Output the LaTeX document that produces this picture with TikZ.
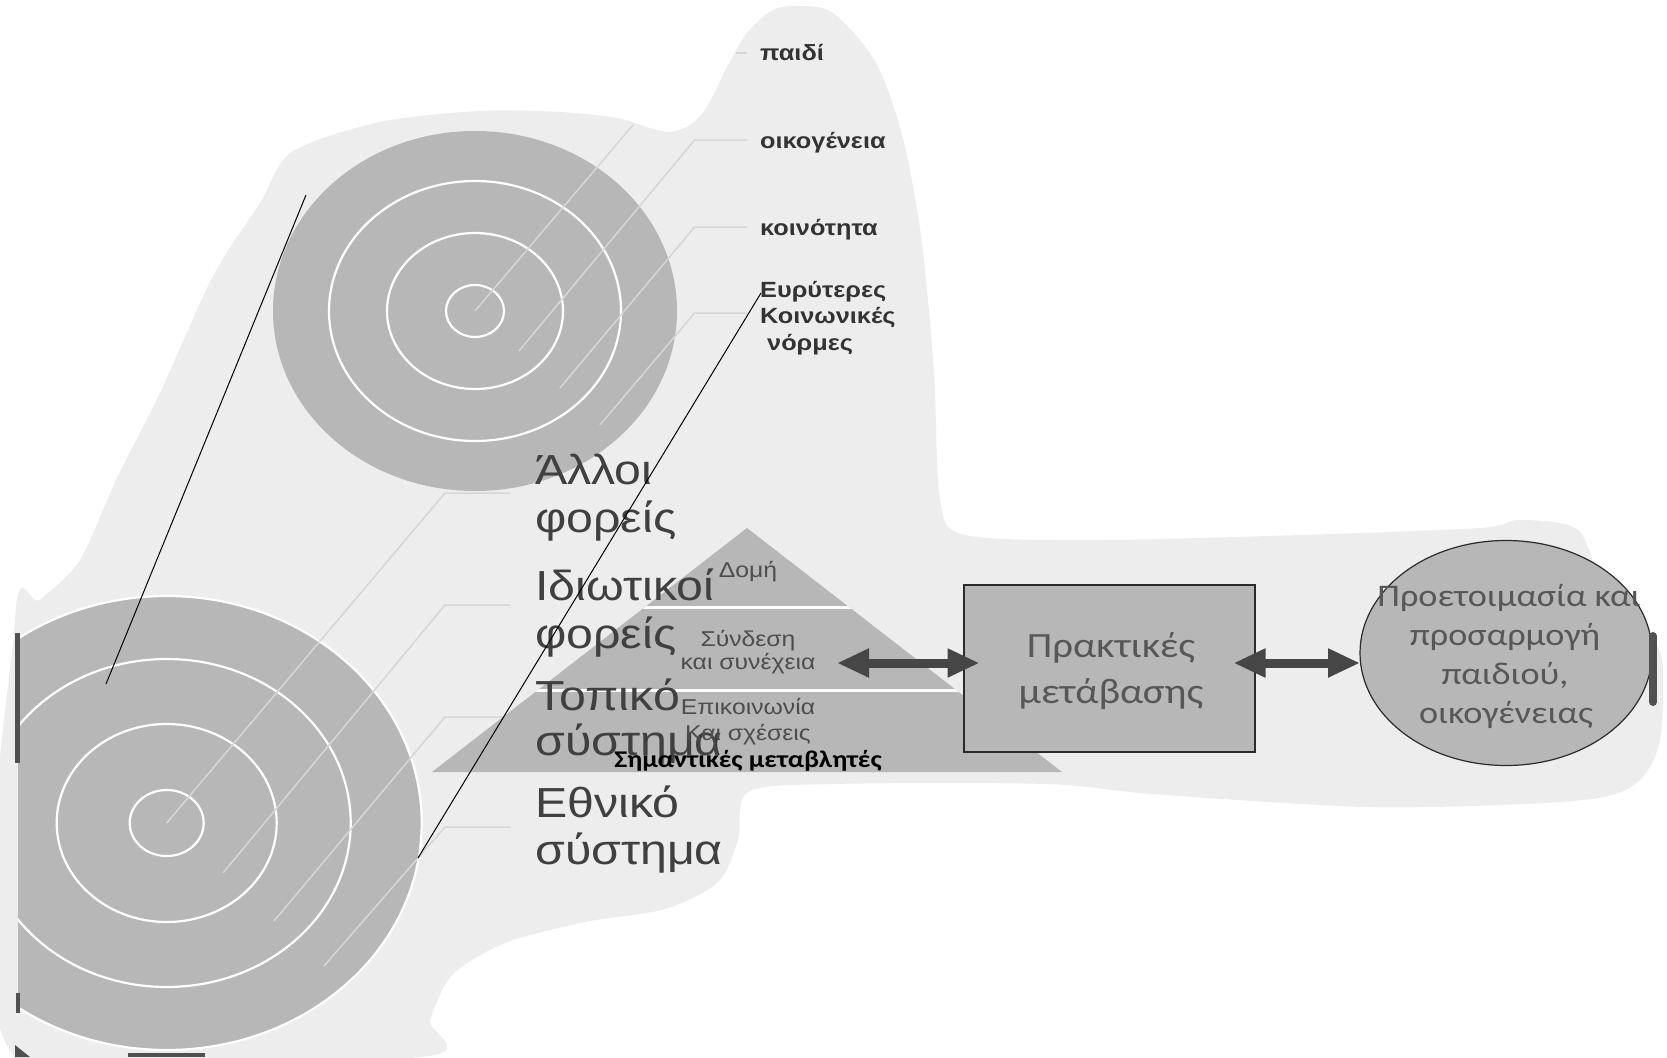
\documentclass[tikz,border=0pt]{standalone}
\usepackage{fontspec}
\setmainfont{Liberation Sans}[FakeStretch=1.15]
\newfontfamily\calfont{Carlito}[FakeStretch=1.15]
\usetikzlibrary{arrows.meta,shapes.geometric}
\definecolor{disc}{HTML}{B7B7B7}
\definecolor{leader}{HTML}{D6D6D6}
\definecolor{bigtext}{HTML}{404040}
\definecolor{labeltext}{HTML}{333333}
\definecolor{pyrtext}{HTML}{4D4D4D}
\definecolor{boxtext}{HTML}{575757}
\definecolor{arrowgray}{HTML}{464646}
\definecolor{boxline}{HTML}{2B2B2B}
\definecolor{darkbar}{HTML}{505050}
\definecolor{blob}{HTML}{EDEDED}
\begin{document}
\begin{tikzpicture}[x=1pt,y=-1pt,
  ring/.style={draw=white,line width=2.2pt},
  leaderline/.style={draw=leader,line width=1.5pt},
  thinblack/.style={draw=black,line width=1pt},
  bigword/.style={anchor=base west,inner sep=0,text=bigtext,font=\fontsize{42}{47}\selectfont},
  toplabel/.style={anchor=base west,inner sep=0,text=labeltext,font=\bfseries\fontsize{22}{26}\selectfont},
  pyrword/.style={anchor=base,inner sep=0,text=pyrtext,font=\fontsize{21.5}{23}\selectfont},
  boxword/.style={anchor=base,inner sep=0,text=boxtext,font=\calfont\fontsize{35.5}{46}\selectfont},
  ellword/.style={anchor=base,inner sep=0,text=boxtext,font=\calfont\fontsize{31.5}{39}\selectfont},
  bigarrow/.style={draw=arrowgray,line width=9pt,
    {Triangle[width=27pt,length=32pt]}-{Triangle[width=27pt,length=32pt]}}]
\useasboundingbox (0,0) rectangle (1667,1057);
\fill[white] (0,0) rectangle (1667,1057);

% background blob
\fill[blob]
  plot[smooth cycle] coordinates {
  (260,203) (292,152) (380,122) (479,111) (560,112) (617,118) (650,128) (670,132)
  (690,125) (707,107) (727,67) (747,33) (773,10) (800,6) (833,13) (875,61)
  (902,135) (921,236) (934,372) (940,500) (965,535) (1100,540) (1300,535)
  (1480,528) (1520,520) (1578,530) (1604,590) (1640,620) (1662,660) (1660,740)
  (1640,780) (1604,797) (1524,804) (1365,807) (1152,794) (1046,784) (833,784)
  (748,792) (738,840) (718,882) (665,909) (585,922) (505,943) (452,975)
  (430,1020) (420,1057) (15,1057) (15,620) (40,600) (80,560) (117,478)
  (160,393) (213,276)};

% top target
\fill[disc] (475,311) ellipse [x radius=202,y radius=180];
\draw[ring] (475,311) ellipse [x radius=146,y radius=130];
\draw[ring] (475,311) ellipse [x radius=88,y radius=78];
\draw[ring] (475,311) ellipse [x radius=29,y radius=26];

% bottom target
\begin{scope}
\clip (18,0) rectangle (1667,1057);
\fill[disc] (166.7,823) ellipse [x radius=255,y radius=227];
\draw[ring] (166.7,823) ellipse [x radius=255,y radius=227];
\draw[ring] (166.7,823) ellipse [x radius=184,y radius=164];
\draw[ring] (166.7,823) ellipse [x radius=110,y radius=99];
\draw[ring] (166.7,823) ellipse [x radius=37,y radius=33];
\end{scope}

% leader lines, top target
\coordinate (tc) at (475,311);
\coordinate (tp1) at (633,125);
\coordinate (tq1a) at (736,53);
\coordinate (tq1b) at (747,53);
\draw[leaderline] (tc) -- (tp1);
\draw[leaderline] (tq1a) -- (tq1b);
\coordinate (ts2) at (519,351); \coordinate (te2) at (694.6,140); \coordinate (tf2) at (747,140);
\coordinate (ts3) at (560,388); \coordinate (te3) at (694.6,227); \coordinate (tf3) at (747,227);
\coordinate (ts4) at (600,425); \coordinate (te4) at (694.6,313); \coordinate (tf4) at (747,313);
\draw[leaderline] (ts2) -- (te2) -- (tf2);
\draw[leaderline] (ts3) -- (te3) -- (tf3);
\draw[leaderline] (ts4) -- (te4) -- (tf4);

% leader lines, bottom target
\coordinate (bs1) at (166.7,823); \coordinate (be1) at (445,493); \coordinate (bf1) at (510,493);
\coordinate (bs2) at (223,873); \coordinate (be2) at (445,605); \coordinate (bf2) at (510,605);
\coordinate (bs3) at (274,921); \coordinate (be3) at (445,717); \coordinate (bf3) at (510,717);
\coordinate (bs4) at (324,966); \coordinate (be4) at (445,827); \coordinate (bf4) at (510,827);
\draw[leaderline] (bs1) -- (be1) -- (bf1);
\draw[leaderline] (bs2) -- (be2) -- (bf2);
\draw[leaderline] (bs3) -- (be3) -- (bf3);
\draw[leaderline] (bs4) -- (be4) -- (bf4);

% pyramid
\coordinate (apex) at (747,528);
\coordinate (bl) at (432,772);
\coordinate (br) at (1062,772);
\fill[disc] (apex) -- (br) -- (bl) -- cycle;
\begin{scope}
\clip (apex) -- (br) -- (bl) -- cycle;
\draw[white,line width=3pt] (400,607) -- (1100,607);
\draw[white,line width=3pt] (400,690) -- (1100,690);
\end{scope}

% big labels
\node[bigword] (w1) at (535,484) {Άλλοι};
\node[bigword] (w2) at (535,532) {φορείς};
\node[bigword] (w3) at (535,600) {Ιδιωτικοί};
\node[bigword] (w4) at (535,648) {φορείς};
\node[bigword] (w5) at (535,710) {Τοπικό};
\node[bigword] (w6) at (535,755) {σύστημα};
\node[bigword] (w7) at (535,817) {Εθνικό};
\node[bigword] (w8) at (535,864) {σύστημα};

% top labels
\node[toplabel] (l1) at (760,60) {παιδί};
\node[toplabel] (l2) at (760,148) {οικογένεια};
\node[toplabel] (l3) at (760,235) {κοινότητα};
\node[toplabel] (l4) at (760,297) {Ευρύτερες};
\node[toplabel] (l5) at (760,323) {Κοινωνικές};
\node[toplabel] (l6) at (767,350) {νόρμες};

% pyramid labels
\node[pyrword] (p1) at (748,577) {Δομή};
\node[pyrword] (p2) at (748,646) {Σύνδεση};
\node[pyrword] (p3) at (748,669) {και συνέχεια};
\node[pyrword] (p4) at (748,714) {Επικοινωνία};
\node[pyrword] (p5) at (748,740) {Και σχέσεις};
\node[anchor=base,inner sep=0,text=black,font=\calfont\bfseries\fontsize{24}{27}\selectfont] (p6) at (748,767) {Σημαντικές μεταβλητές};

% box and ellipse
\node[draw=boxline,line width=2pt,fill=disc,minimum width=291pt,minimum height=167pt,inner sep=0] (box) at (1109,668.5) {};
\node[boxword] (b1) at (1111,657) {Πρακτικές};
\node[boxword] (b2) at (1111,703) {μετάβασης};
\node[ellipse,draw=boxline,line width=1.2pt,fill=disc,minimum width=292pt,minimum height=225pt,inner sep=0] (ell) at (1506,653) {};
\node[ellword] (e1) at (1509,606) {Προετοιμασία και};
\node[ellword] (e2) at (1505,645) {προσαρμογή};
\node[ellword] (e3) at (1505,684) {παιδιού,};
\node[ellword] (e4) at (1506,723) {οικογένειας};

% arrows
\coordinate (pyr) at (837,663);
\coordinate (boxw) at (pyr -| box.west);
\coordinate (boxe) at (pyr -| box.east);
\coordinate (ellw) at (1360,663);
\draw[bigarrow,shorten >=-17pt] (pyr) -- (boxw);
\draw[bigarrow,shorten <=-22pt] (boxe) -- (ellw);

% thin black lines
\coordinate (ka1) at (306,195); \coordinate (ka2) at (106,684);
\coordinate (kb1) at (761,293); \coordinate (kb2) at (418,858);
\draw[thinblack] (ka1) -- (ka2);
\draw[thinblack] (kb1) -- (kb2);

% dark edge marks
\fill[darkbar] (15,633) rectangle (20,763);
\fill[darkbar] (16,993) rectangle (20,1013);
\fill[darkbar] (128,1053) rectangle (205,1057);
\fill[darkbar] (15,1045) -- (30,1057) -- (15,1057) -- cycle;
\draw[darkbar,line width=8pt,line cap=round] (1653,636) -- (1653,702);
\end{tikzpicture}
\end{document}
